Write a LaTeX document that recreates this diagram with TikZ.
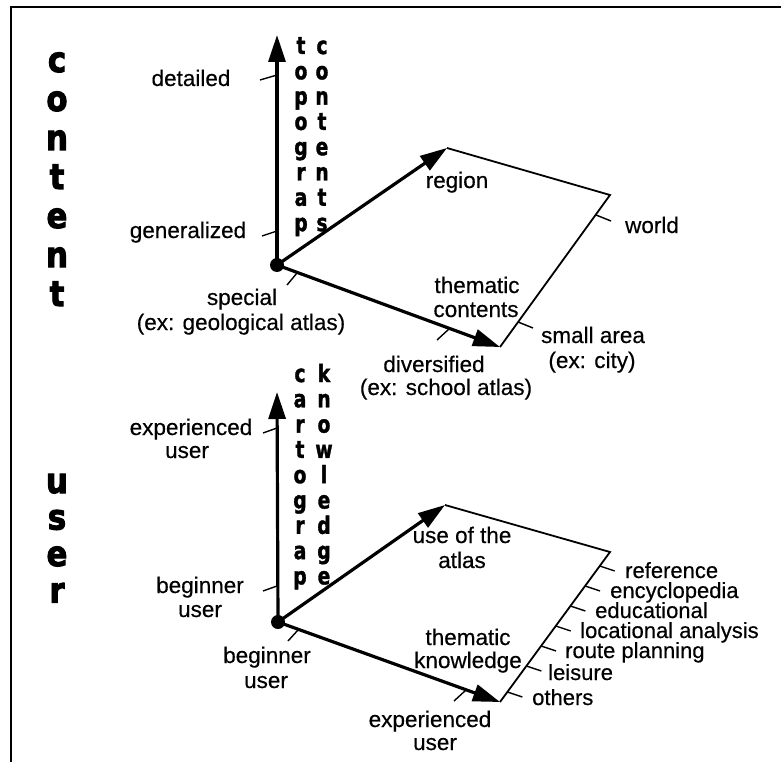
\documentclass[tikz,border=0pt]{standalone}
\usepackage{fontspec}
\usepackage{graphicx}
\setmainfont{Liberation Sans}[FakeBold=0.4]
\newfontfamily\heavy{DejaVu Sans Bold}[FakeBold=3]
\newfontfamily\heavys{DejaVu Sans Bold}[FakeBold=1.6]
\newcommand{\narrowchar}[1]{\scalebox{0.78}[1]{#1}}
\newcommand{\bigchar}[1]{\scalebox{0.88}[1]{#1}}
\usetikzlibrary{arrows.meta}
\begin{document}
\begin{tikzpicture}[x=1pt,y=-1pt,
  lbl/.style={font=\fontsize{22.5}{25}\selectfont, inner sep=0pt, anchor=base},
  rlbl/.style={lbl, font=\fontsize{22}{25}\selectfont, anchor=base west},
  bigl/.style={font=\heavy\fontsize{35}{35}\selectfont, inner sep=0pt, anchor=base},
  stackl/.style={font=\heavys\fontsize{24}{24}\selectfont, inner sep=0pt, anchor=base},
  axis/.style={line width=3.2pt, -{Triangle[length=27pt,width=17pt]}},
  edge/.style={line width=1.8pt},
  tickl/.style={line width=1.4pt},
  frameline/.style={line width=2.6pt}
]
\useasboundingbox (0,0) rectangle (781,762);
% frame
\coordinate (fTL) at (11,7);
\coordinate (fTR) at (781,7);
\coordinate (fBL) at (11,762);
\draw[frameline] (fBL) -- (fTL) -- (fTR);

% ---------- top diagram ----------
\coordinate (O1) at (277,265);
\coordinate (V1) at (277,35);
\coordinate (A1) at (447,148);
\coordinate (B1) at (610,195);
\coordinate (C1) at (500,347);
\draw[edge] (A1) -- (B1) -- (C1);
\draw[axis] (O1) -- (V1);
\draw[axis] (O1) -- (A1);
\draw[axis] (O1) -- (C1);
\node[circle, fill, inner sep=0pt, minimum size=14pt] (dot1) at (O1) {};

% ticks top
\coordinate (t1a) at (277,75);  \coordinate (t1b) at (260,80);
\coordinate (t2a) at (277,231); \coordinate (t2b) at (262,236);
\coordinate (t3a) at (297,273); \coordinate (t3b) at (287,285);
\coordinate (t4a) at (449,329); \coordinate (t4b) at (437,340);
\coordinate (t5a) at (596,215); \coordinate (t5b) at (611,221);
\coordinate (t6a) at (518,322); \coordinate (t6b) at (533,328);
\foreach \t in {1,...,6} \draw[tickl] (t\t a) -- (t\t b);

% labels top
\node[lbl] (detailed) at (191,86) {detailed};
\node[lbl] (generalized) at (188,238) {generalized};
\node[lbl] (special) at (242,305) {special};
\node[lbl] (special2) at (241,330) {(ex: geological atlas)};
\node[lbl] (region) at (457,188) {region};
\node[lbl] (world) at (652,233) {world};
\node[lbl] (them1) at (477,293) {thematic};
\node[lbl] (them2) at (476,317) {contents};
\node[lbl] (small1) at (593,343) {small area};
\node[lbl] (small2) at (592,368) {(ex: city)};
\node[lbl] (div1) at (434,372) {diversified};
\node[lbl] (div2) at (446,395) {(ex: school atlas)};

% stacked letters top
\foreach \c [count=\i from 0] in {t,o,p,o,g,r,a,p}
  \node[stackl] (topo\i) at (301,54+25.3*\i) {\narrowchar{\c}};
\foreach \c [count=\i from 0] in {c,o,n,t,e,n,t,s}
  \node[stackl] (cont\i) at (322,54+25.3*\i) {\narrowchar{\c}};
\foreach \c [count=\i from 0] in {c,o,n,t,e,n,t}
  \node[bigl] (bigc\i) at (57,72+39*\i) {\bigchar{\c}};

% ---------- bottom diagram ----------
\coordinate (O2) at (278,622);
\coordinate (V2) at (277,392);
\coordinate (A2) at (445,505);
\coordinate (B2) at (610,552);
\coordinate (C2) at (500,702);
\draw[edge] (A2) -- (B2) -- (C2);
\draw[axis] (O2) -- (V2);
\draw[axis] (O2) -- (A2);
\draw[axis] (O2) -- (C2);
\node[circle, fill, inner sep=0pt, minimum size=14pt] (dot2) at (O2) {};

% ticks bottom
\coordinate (u1a) at (277,428); \coordinate (u1b) at (263,433);
\coordinate (u2a) at (277,586); \coordinate (u2b) at (263,591);
\coordinate (u3a) at (298,630); \coordinate (u3b) at (288,641);
\coordinate (u4a) at (466,690); \coordinate (u4b) at (454,701);
\foreach \t in {1,...,4} \draw[tickl] (u\t a) -- (u\t b);
\foreach \y [count=\i] in {566,586,606,626,646,666,692}
  \draw[tickl] ({610-(\y-552)*0.7333},\y) coordinate (r\i a) -- ++(15,5) coordinate (r\i b);

% labels bottom
\node[lbl] (exp1) at (191,435) {experienced};
\node[lbl] (exp1u) at (187,458) {user};
\node[lbl] (beg1) at (200,593) {beginner};
\node[lbl] (beg1u) at (200,617) {user};
\node[lbl] (beg2) at (267,663) {beginner};
\node[lbl] (beg2u) at (266,688) {user};
\node[lbl] (use1) at (462,543) {use of the};
\node[lbl] (use2) at (462,568) {atlas};
\node[lbl] (tk1) at (468,645) {thematic};
\node[lbl] (tk2) at (468,668) {knowledge};
\node[lbl] (exp2) at (430,727) {experienced};
\node[lbl] (exp2u) at (435,750) {user};
\node[rlbl] (ref) at (625,578) {reference};
\node[rlbl] (enc) at (610,598) {encyclopedia};
\node[rlbl] (edu) at (595,618) {educational};
\node[rlbl] (loc) at (580,638) {locational analysis};
\node[rlbl] (route) at (565,658) {route planning};
\node[rlbl] (leis) at (548,680) {leisure};
\node[rlbl] (oth) at (532,705) {others};

% stacked letters bottom
\foreach \c [count=\i from 0] in {c,a,r,t,o,g,r,a,p}
  \node[stackl] (cart\i) at (300,382+25.3*\i) {\narrowchar{\c}};
\foreach \c [count=\i from 0] in {k,n,o,w,l,e,d,g,e}
  \node[stackl] (know\i) at (324,382+25.3*\i) {\narrowchar{\c}};
\foreach \c [count=\i from 0] in {u,s,e,r}
  \node[bigl] (bigu\i) at (57,493+36.5*\i) {\bigchar{\c}};
\end{tikzpicture}
\end{document}
